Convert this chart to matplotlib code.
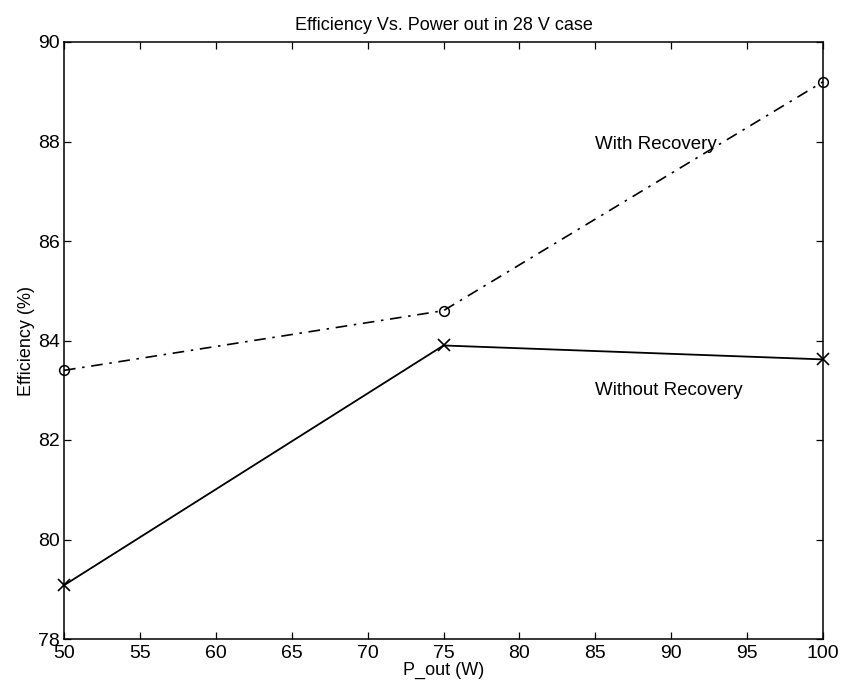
import numpy as np
import matplotlib
matplotlib.use('Agg')
import matplotlib.pyplot as plt

# data
p_out = [50, 75, 100]
eff_with = [83.4, 84.6, 89.2]
eff_without = [79.08, 83.9, 83.62]

x_ticks = list(range(50, 101, 5))
y_ticks = list(range(78, 91, 2))

plt.rcParams['font.family'] = ['Liberation Sans', 'DejaVu Sans']

fig = plt.figure(figsize=(8.44, 6.91), dpi=100)
# axes box: left 64px, right 823px, top 42px, bottom 639px
ax = fig.add_axes([64/844, 1 - 639/691, (823-64)/844, (639-42)/691])

ax.plot(p_out, eff_with, color='black', linestyle=(0, (7, 4, 1.5, 4)),
        linewidth=1.2, marker='o', markersize=7, markerfacecolor='none',
        markeredgewidth=1.1, clip_on=False)
ax.plot(p_out, eff_without, color='black', linestyle='-', linewidth=1.3,
        marker='x', markersize=8, markeredgewidth=1.2, clip_on=False)

ax.text(85.0, 87.93, 'With Recovery', fontsize=13.5, va='center', ha='left')
ax.text(85.0, 83.0, 'Without Recovery', fontsize=13.5, va='center', ha='left')

ax.set_xlim(50, 100)
ax.set_ylim(78, 90)
ax.set_xticks(x_ticks)
ax.set_yticks(y_ticks)
ax.tick_params(direction='in', length=5, width=0.9, labelsize=14,
               top=True, right=True)
ax.tick_params(axis='x', pad=4)
ax.tick_params(axis='y', pad=3)
for s in ax.spines.values():
    s.set_linewidth(1.1)

ax.set_title('Efficiency Vs. Power out in 28 V case', fontsize=13, pad=9)
ax.set_xlabel('P_out (W)', fontsize=13, labelpad=0)
ax.set_ylabel('Efficiency (%)', fontsize=13, labelpad=2)

fig.savefig('out.png', dpi=100)
